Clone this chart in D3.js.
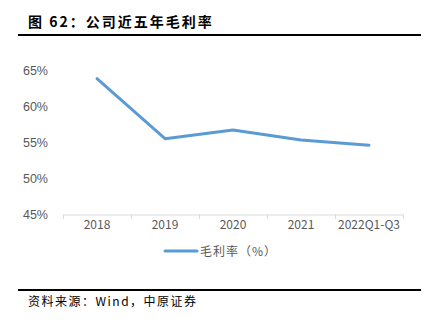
<!DOCTYPE html>
<html><head><meta charset="utf-8">
<script src="https://cdn.jsdelivr.net/npm/d3@7"></script>
<style>body{margin:0;background:#fff}svg{display:block}</style>
</head><body>
<script>
const categories = ["2018","2019","2020","2021","2022Q1-Q3"];
const grossMargin = [63.8, 55.5, 56.7, 55.3, 54.6];
const yTicks = [45,50,55,60,65];
const title = "图 62：公司近五年毛利率";
const seriesName = "毛利率（%）";
const source = "资料来源：Wind，中原证券";

const W=432,H=327;
const svg=d3.select("body").append("svg").attr("width",W).attr("height",H);
const cjk='"Noto Sans CJK SC","Liberation Sans",sans-serif';

svg.append("text").attr("x",28).attr("y",27).attr("font-family",cjk).attr("font-weight","bold")
  .attr("font-size",14).attr("letter-spacing",2).attr("fill","#000").text(title);
svg.append("rect").attr("x",18).attr("y",34).attr("width",403).attr("height",2).attr("fill","#000");
svg.append("rect").attr("x",18).attr("y",289).attr("width",403).attr("height",2).attr("fill","#000");
svg.append("text").attr("x",28).attr("y",306).attr("font-family",cjk).attr("font-size",12)
  .attr("letter-spacing",1.5).attr("fill","#000").text(source);

const x=d3.scaleBand().domain(categories).range([63,403]);
const y=d3.scaleLinear().domain([45,65]).range([214.5,70]);

const ya=svg.append("g").attr("transform","translate(55,0)")
  .call(d3.axisLeft(y).tickValues(yTicks).tickFormat(d=>d+"%").tickSize(0));
ya.select(".domain").remove();
ya.selectAll("text").attr("font-family",'"Liberation Sans",Arial,sans-serif').attr("font-size",12.5).attr("fill","#595959").attr("dx",-4);

const xa=svg.append("g").attr("transform","translate(0,214.5)")
  .call(d3.axisBottom(x).tickSize(0));
xa.select(".domain").attr("stroke","#d9d9d9").attr("stroke-width",1);
xa.selectAll("text").attr("font-family",cjk).attr("font-size",12).attr("fill","#595959").attr("dy","0.95em");
const bounds=categories.map(c=>x(c)).concat([x.range()[1]]);
svg.append("g").selectAll("line").data(bounds).join("line")
  .attr("x1",d=>d+0.5).attr("x2",d=>d+0.5).attr("y1",214.5).attr("y2",219)
  .attr("stroke","#d9d9d9");

const line=d3.line().x((d,i)=>x(categories[i])+x.bandwidth()/2).y(d=>y(d));
svg.append("path").datum(grossMargin).attr("d",line).attr("fill","none")
  .attr("stroke","#5B9BD5").attr("stroke-width",3).attr("stroke-linejoin","round").attr("stroke-linecap","round");

svg.append("line").attr("x1",165).attr("x2",197).attr("y1",251).attr("y2",251)
  .attr("stroke","#5B9BD5").attr("stroke-width",3).attr("stroke-linecap","round");
svg.append("text").attr("x",200).attr("y",255.5).attr("font-family",cjk).attr("font-size",12)
  .attr("letter-spacing",1).attr("fill","#595959").text(seriesName);
</script>
</body></html>
